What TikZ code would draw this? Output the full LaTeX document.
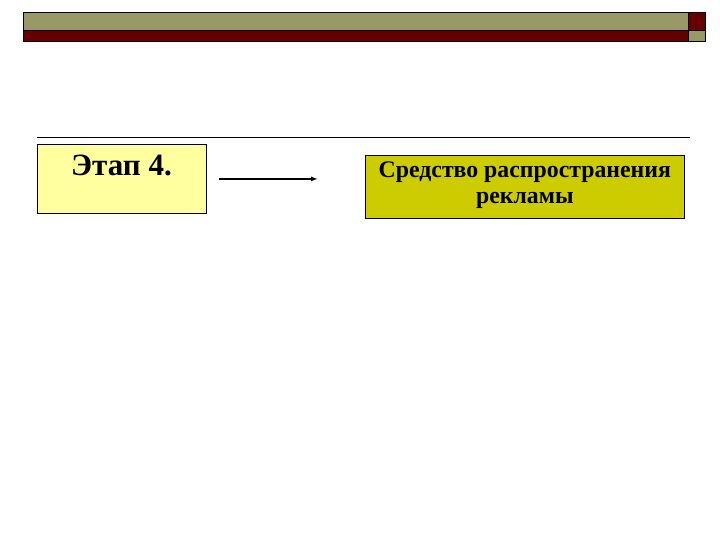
\documentclass[tikz,border=0pt]{standalone}
\usepackage{fontspec}
\setmainfont{LiberationSerif}[Extension=.ttf, UprightFont=*-Regular, BoldFont=*-Bold, ItalicFont=*-Italic, BoldItalicFont=*-BoldItalic]
\usetikzlibrary{arrows.meta}
\definecolor{barolive}{RGB}{153,153,102}
\definecolor{barred}{RGB}{102,0,0}
\definecolor{stageyellow}{RGB}{255,255,160}
\definecolor{mediumyellow}{RGB}{204,204,0}
\begin{document}
\begin{tikzpicture}[x=1pt,y=-1pt,
	stagebox/.style={draw, line width=.8pt, fill=stageyellow, minimum width=169pt, minimum height=69pt, inner sep=0pt},
	mediumbox/.style={draw, line width=.8pt, fill=mediumyellow, minimum width=319pt, minimum height=63pt, inner sep=0pt, align=center, text depth=9pt, font=\fontsize{23.8}{26.5}\bfseries},
	flow/.style={line width=1.6pt, -{Latex[length=7pt,width=5pt]}}]
	\fill[white] (0,0) rectangle (720,540);
	\useasboundingbox (0,0) rectangle (720,540);
	% top bar
	\draw[fill=barolive] (23,12) rectangle (688,30);
	\draw[fill=barred] (23,30) rectangle (688,41);
	\draw[fill=barred] (688,12) rectangle (705,30);
	\draw[fill=barolive] (688,30) rectangle (705,41);
	\draw[line width=.8pt] (37,137) -- (690,137);
	
	\node[stagebox, anchor=north west] (etap) at (37,144) {};
	\node[font=\fontsize{31}{34}\bfseries, anchor=base, inner sep=0pt] (etaptext) at (121.5,176) {Этап 4.};
	\node[mediumbox, anchor=north west] (medium) at (365,155) {Средство распространения\\рекламы};
	
	\draw[flow, shorten <=12pt, shorten >=47pt] (etap.east) -- (etap.east -| medium.west);
\end{tikzpicture}
\end{document}
